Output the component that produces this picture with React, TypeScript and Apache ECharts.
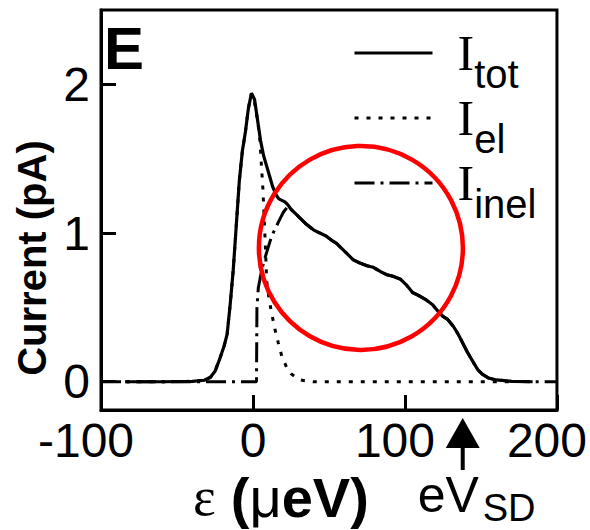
import React, { useEffect, useRef } from 'react';
import * as echarts from 'echarts';

const xTicks = [-100, 0, 100, 200];
const yTicks = [0, 1, 2];
const xMin = -100;
const xMax = 200;
const yMin = -0.19;
const yMax = 2.5;

// I_tot (solid)
const totEps = [-84, -60, -40, -32, -28, -25, -22, -19, -17, -15, -13, -11, -9, -7, -5, -3, -1, 1, 3, 5, 7, 9, 11, 13, 15, 17, 19, 21, 23, 25, 28, 31, 35, 40, 44, 48, 52, 55, 58, 62, 66, 70, 75, 79, 84, 88, 92, 97, 101, 105, 109, 114, 118, 122, 125, 128, 132, 135, 138, 141, 145, 148, 151, 155, 160, 170, 184];
const totCur = [0, 0, 0.003, 0.01, 0.03, 0.07, 0.15, 0.24, 0.32, 0.52, 0.75, 1.05, 1.35, 1.55, 1.68, 1.84, 1.94, 1.9, 1.76, 1.62, 1.52, 1.45, 1.38, 1.31, 1.26, 1.23, 1.22, 1.21, 1.19, 1.16, 1.13, 1.1, 1.06, 1.02, 1.0, 0.98, 0.95, 0.93, 0.9, 0.86, 0.82, 0.8, 0.78, 0.77, 0.74, 0.72, 0.71, 0.69, 0.65, 0.6, 0.58, 0.55, 0.52, 0.47, 0.44, 0.42, 0.37, 0.32, 0.26, 0.2, 0.13, 0.08, 0.05, 0.025, 0.012, 0.003, 0];

// I_el (dotted)
const elEps = [-84, -60, -40, -32, -28, -25, -22, -19, -17, -15, -13, -11, -9, -7, -5, -3, -1, 1, 3, 4.6, 5.7, 6.5, 8, 9, 10.5, 12.3, 14.5, 16.7, 19, 22, 25, 28.7, 33, 40, 170];
const elCur = [0, 0, 0.003, 0.01, 0.03, 0.07, 0.15, 0.24, 0.32, 0.52, 0.75, 1.05, 1.35, 1.55, 1.68, 1.84, 1.94, 1.88, 1.76, 1.62, 1.43, 1.3, 0.95, 0.68, 0.56, 0.46, 0.35, 0.26, 0.17, 0.1, 0.055, 0.025, 0.008, 0, 0];

// I_inel (dash-dot), rising part; beyond it follows I_tot
const inelHeadEps = [-100, -60, -20, 2.3, 2.6, 3.5, 5.7, 7.5, 9, 12.3, 15.6, 18, 20, 23];
const inelHeadCur = [0, 0, 0, 0, 0.5, 0.63, 0.75, 0.82, 0.87, 0.98, 1.05, 1.1, 1.14, 1.18];

const eVSD = 138;
const circleCenter = [71, 0.9];

const subNames: Record<string, string> = { I_tot: 'tot', I_el: 'el', I_inel: 'inel' };

const zip = (xs: number[], ys: number[]) => xs.map((x, i) => [x, ys[i]]);

export default function App() {
  const ref = useRef<HTMLDivElement>(null);
  useEffect(() => {
    const chart = echarts.init(ref.current!, null, { renderer: 'svg' });
    const tot = zip(totEps, totCur);
    const el = zip(elEps, elCur);
    const lastHead = inelHeadEps[inelHeadEps.length - 1];
    const inel = [...zip(inelHeadEps, inelHeadCur), ...tot.filter((p) => p[0] > lastHead), [xMax, 0]];

    const sans = 'Liberation Sans';
    const serif = 'Liberation Serif';
    const lbl = { fontSize: 48, fontFamily: sans, color: '#000' };
    const axisLine = { show: true, onZero: false, lineStyle: { color: '#000', width: 3 } };
    const tick = { show: true, inside: true, length: 15, lineStyle: { color: '#000', width: 3 } };

    chart.setOption({
      animation: false,
      backgroundColor: '#fff',
      title: {
        text: 'E',
        left: 104,
        top: 18,
        padding: 0,
        textStyle: { fontSize: 60, fontWeight: 'bold', fontFamily: sans, color: '#000' },
      },
      legend: {
        orient: 'vertical',
        left: 353,
        top: 12,
        padding: 0,
        itemWidth: 78,
        itemHeight: 20,
        itemGap: -17,
        selectedMode: false,
        data: ['I_tot', 'I_el', 'I_inel'],
        lineStyle: { width: 3 },
        itemStyle: { opacity: 0 },
        formatter: (name: string) => `{i|I}{s|${subNames[name]}}`,
        textStyle: {
          rich: {
            i: { fontSize: 50, fontFamily: serif, lineHeight: 50, color: '#000', padding: [0, 0, 0, 20] },
            s: { fontSize: 40, fontFamily: sans, lineHeight: 40, color: '#000', padding: [42, 0, 0, 0] },
          },
        },
      },
      grid: {
        left: 101,
        right: 33,
        top: 10,
        bottom: 120,
        show: true,
        borderColor: '#000',
        borderWidth: 3,
        backgroundColor: 'transparent',
      },
      xAxis: {
        type: 'value',
        min: xMin,
        max: xMax,
        interval: 100,
        position: 'bottom',
        axisLine,
        splitLine: { show: false },
        axisTick: { ...tick, customValues: xTicks },
        axisLabel: {
          customValues: xTicks,
          margin: 6,
          ...lbl,
          formatter: (v: number) => (v === 0 ? `{a|${v}}` : v < 0 ? `{n|${v}}` : `{b|${v}}`),
          rich: {
            a: { ...lbl },
            n: { ...lbl, padding: [0, 30, 0, 0] },
            b: { ...lbl, padding: [0, 20, 0, 0] },
          },
        },
        name: '{e|ε}{p|(}{m|μ}{b|eV)}',
        nameLocation: 'middle',
        nameGap: 59,
        nameTextStyle: {
          padding: [0, 96, 0, 0],
          rich: {
            e: { fontSize: 54, fontFamily: serif, color: '#000', padding: [0, 15, 0, 0] },
            p: { fontSize: 56, fontFamily: sans, fontWeight: 'bold', color: '#000' },
            m: { fontSize: 56, fontFamily: sans, color: '#000' },
            b: { fontSize: 56, fontFamily: sans, fontWeight: 'bold', color: '#000' },
          },
        },
      },
      yAxis: {
        type: 'value',
        min: yMin,
        max: yMax,
        position: 'left',
        axisLine,
        splitLine: { show: false },
        axisTick: { ...tick, customValues: yTicks },
        axisLabel: { customValues: yTicks, margin: 11, ...lbl },
        name: 'Current (pA)',
        nameLocation: 'middle',
        nameRotate: 90,
        nameGap: 48,
        nameTextStyle: {
          fontSize: 40,
          fontWeight: 'bold',
          fontFamily: sans,
          color: '#000',
          padding: [0, 96, 0, 0],
        },
      },
      series: [
        {
          name: 'I_inel',
          type: 'line',
          data: inel,
          symbol: 'none',
          z: 2,
          lineStyle: { color: '#000', width: 3, type: [20, 6, 3, 6] },
        },
        {
          name: 'I_el',
          type: 'line',
          data: el,
          symbol: 'none',
          z: 3,
          lineStyle: { color: '#000', width: 3, type: [4, 8] },
        },
        {
          name: 'I_tot',
          type: 'line',
          data: tot,
          symbol: 'none',
          z: 4,
          lineStyle: { color: '#000', width: 3.2, type: 'solid' },
        },
      ],
    });

    const [cx, cy] = chart.convertToPixel({ gridIndex: 0 }, circleCenter) as number[];
    const ax = chart.convertToPixel({ xAxisIndex: 0 }, eVSD) as number;
    const axisBottom = chart.convertToPixel({ yAxisIndex: 0 }, yMin) as number;

    chart.setOption({
      graphic: [
        {
          type: 'circle',
          z: 100,
          shape: { cx, cy, r: 102 },
          style: { fill: 'none', stroke: '#ff0000', lineWidth: 4.5 },
        },
        {
          type: 'polygon',
          z: 100,
          shape: { points: [[ax, axisBottom + 8], [ax - 17, axisBottom + 38], [ax + 17, axisBottom + 38]] },
          style: { fill: '#000' },
        },
        {
          type: 'rect',
          z: 100,
          shape: { x: ax - 2, y: axisBottom + 36, width: 4, height: 24 },
          style: { fill: '#000' },
        },
        {
          type: 'text',
          z: 100,
          style: {
            text: 'eV',
            x: ax - 45,
            y: axisBottom + 85,
            fontSize: 50,
            fontFamily: sans,
            fill: '#000',
            verticalAlign: 'middle',
            align: 'left',
          },
        },
        {
          type: 'text',
          z: 100,
          style: {
            text: 'SD',
            x: ax + 20,
            y: axisBottom + 98,
            fontSize: 38,
            fontFamily: sans,
            fill: '#000',
            verticalAlign: 'middle',
            align: 'left',
          },
        },
      ],
    });

    return () => chart.dispose();
  }, []);
  return (
    <div
      ref={ref}
      style={{ position: 'fixed', left: 0, top: 0, width: 590, height: 530, background: '#fff' }}
    />
  );
}
